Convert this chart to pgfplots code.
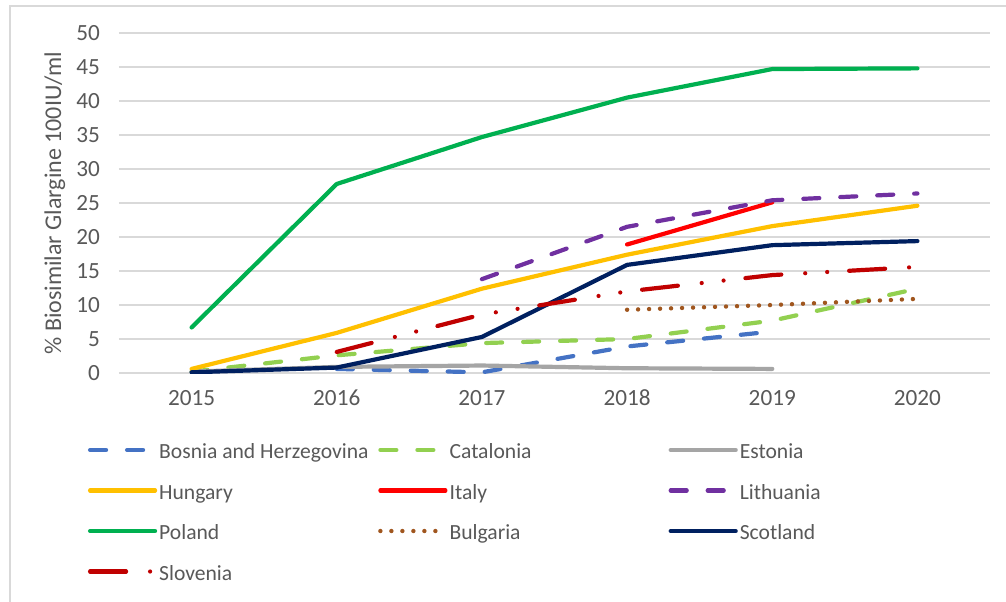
\documentclass[border=0pt]{standalone}
\usepackage{fontspec}
\setmainfont{Carlito}
\usepackage{pgfplots}
\pgfplotsset{compat=1.18}
\definecolor{bosnia}{HTML}{4472C4}
\definecolor{catalonia}{HTML}{92D050}
\definecolor{estonia}{HTML}{A5A5A5}
\definecolor{hungary}{HTML}{FFC000}
\definecolor{italy}{HTML}{FF0000}
\definecolor{lithuania}{HTML}{7030A0}
\definecolor{poland}{HTML}{00B050}
\definecolor{bulgaria}{HTML}{A0561E}
\definecolor{scotland}{HTML}{002060}
\definecolor{slovenia}{HTML}{C00000}
\definecolor{labelgray}{HTML}{595959}
\definecolor{gridgray}{HTML}{D9D9D9}
\newcommand{\lgent}[1]{\makebox[109.5pt][l]{\rule[-5pt]{0pt}{15.5pt}#1}}
\begin{document}
\begin{tikzpicture}
\useasboundingbox (-59.5pt,-114pt) rectangle (443.5pt,186.5pt);
\fill[white] (-59.5pt,-114pt) rectangle (443.5pt,186.5pt);
\draw[gridgray, line width=0.9pt] (-54.5pt,-116pt) -- (-54.5pt,183.5pt) -- (446pt,183.5pt);
\begin{axis}[
  at={(0pt,0pt)}, anchor=south west,
  scale only axis, width=435.5pt, height=170pt,
  xmin=2014.5, xmax=2020.5, ymin=0, ymax=50,
  xtick={2015,2016,2017,2018,2019,2020},
  xticklabels={2015,2016,2017,2018,2019,2020},
  ytick={0,5,...,50},
  axis line style={draw=none},
  major tick length=0pt,
  ymajorgrids, grid style={gridgray, line width=0.8pt},
  tick label style={font=\fontsize{11.6}{14}\selectfont, text=labelgray},
  /pgf/number format/assume math mode=true,
  yticklabel style={xshift=-6pt},
  xticklabel style={yshift=-5pt},
  ylabel={\% Biosimilar Glargine 100IU/ml},
  ylabel style={at={(axis description cs:-0.0735,0.5)}, anchor=center, font=\fontsize{12}{14}\selectfont, text=labelgray},
  no markers,
  every axis plot/.append style={line width=2.1pt, line join=round, line cap=round},
  legend columns=3,
  legend cell align=left,
  legend style={at={(axis description cs:-0.0356,-0.1900)}, anchor=north west,
    draw=none, fill=none, inner sep=0pt, outer sep=0pt,
    font=\fontsize{10.8}{13}\selectfont, text=labelgray,
    nodes={inner sep=0pt}, row sep=8.25pt,
    /tikz/every odd column/.append style={column sep=1pt},
    /tikz/every even column/.append style={column sep=0pt}},
  legend image code/.code={\draw[#1] (0pt,-0.2pt) -- (32.5pt,-0.2pt);},
]
\addplot[bosnia, dash pattern=on 8pt off 10.5pt] coordinates {(2016,0.6) (2017,0.1) (2018,3.9) (2019,6.1)};
\addlegendentry{\lgent{Bosnia and Herzegovina}}
\addplot[catalonia, dash pattern=on 8pt off 10.5pt] coordinates {(2015,0.2) (2016,2.6) (2017,4.4) (2018,5.0) (2019,7.7) (2020,12.4)};
\addlegendentry{\lgent{Catalonia}}
\addplot[estonia] coordinates {(2015,0.2) (2016,0.9) (2017,1.1) (2018,0.7) (2019,0.6)};
\addlegendentry{\lgent{Estonia}}
\addplot[hungary] coordinates {(2015,0.6) (2016,5.9) (2017,12.4) (2018,17.4) (2019,21.6) (2020,24.6)};
\addlegendentry{\lgent{Hungary}}
\addplot[italy] coordinates {(2018,18.9) (2019,25.1)};
\addlegendentry{\lgent{Italy}}
\addplot[lithuania, dash pattern=on 8pt off 10.5pt] coordinates {(2017,13.8) (2018,21.5) (2019,25.4) (2020,26.4)};
\addlegendentry{\lgent{Lithuania}}
\addplot[poland] coordinates {(2015,6.7) (2016,27.8) (2017,34.7) (2018,40.5) (2019,44.7) (2020,44.8)};
\addlegendentry{\lgent{Poland}}
\addplot[bulgaria, line width=2.2pt, dash pattern=on 0pt off 5.5pt] coordinates {(2018,9.3) (2019,10.0) (2020,10.9)};
\addlegendentry{\lgent{Bulgaria}}
\addplot[scotland] coordinates {(2015,0.1) (2016,0.8) (2017,5.3) (2018,15.9) (2019,18.8) (2020,19.4)};
\addlegendentry{\lgent{Scotland}}
\addplot[slovenia, dash pattern=on 18pt off 12pt on 0pt off 11pt on 0pt off 11pt] coordinates {(2016,3.1) (2017,8.6) (2018,12.0) (2019,14.4) (2020,15.6)};
\addlegendentry{\lgent{Slovenia}}
\end{axis}
\end{tikzpicture}
\end{document}
